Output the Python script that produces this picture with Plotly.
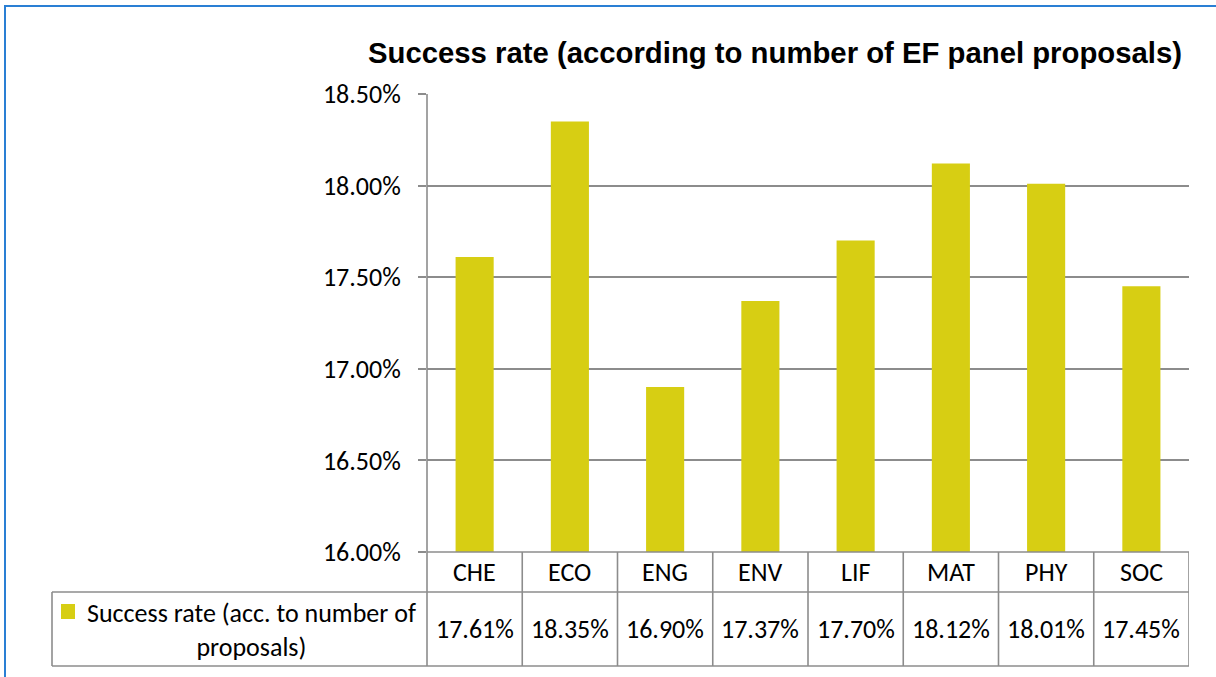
import plotly.graph_objects as go

categories = ["CHE", "ECO", "ENG", "ENV", "LIF", "MAT", "PHY", "SOC"]
success_rate = [0.1761, 0.1835, 0.1690, 0.1737, 0.1770, 0.1812, 0.1801, 0.1745]
value_labels = ["17.61%", "18.35%", "16.90%", "17.37%", "17.70%", "18.12%", "18.01%", "17.45%"]
series_name = "Success rate (acc. to number of<br>proposals)"
title_text = "Success rate (according to number of EF panel proposals)"
y_tick_vals = [0.160, 0.165, 0.170, 0.175, 0.180, 0.185]

BAR = "#D7CE13"
GRID = "#8c8c8c"
FONT = "Carlito, Lato, sans-serif"

W, H = 1216, 677
L, R, T, B = 427, 1189, 94, 552
pw, ph = R - L, B - T


def px(x):
    return (x - L) / pw


def py(y):
    return (B - y) / ph


fig = go.Figure()
fig.add_trace(go.Bar(x=categories, y=success_rate, marker=dict(color=BAR, line=dict(width=0)),
                     width=0.4, name=series_name.replace("<br>", " "), showlegend=False,
                     hoverinfo="skip"))

shapes = []
# blue outer frame
shapes.append(dict(type="rect", xref="paper", yref="paper", x0=px(5), x1=px(1240), y0=py(700), y1=py(6),
                   line=dict(color="#2a7fd4", width=2), layer="below"))
lw = 1.6
# y axis line extended through table
shapes.append(dict(type="line", xref="paper", yref="paper", x0=0, x1=0, y0=py(666), y1=1,
                   line=dict(color=GRID, width=lw)))
# horizontal table lines
shapes.append(dict(type="line", xref="paper", yref="paper", x0=0, x1=1, y0=0, y1=0,
                   line=dict(color=GRID, width=lw)))
for yy in (592, 666):
    shapes.append(dict(type="line", xref="paper", yref="paper", x0=px(52), x1=1, y0=py(yy), y1=py(yy),
                       line=dict(color=GRID, width=lw)))
# legend cell left border
shapes.append(dict(type="line", xref="paper", yref="paper", x0=px(52), x1=px(52), y0=py(666), y1=py(592),
                   line=dict(color=GRID, width=lw)))
# vertical column lines
for i in range(len(categories)):
    shapes.append(dict(type="line", xref="x", yref="paper", x0=i + 0.5, x1=i + 0.5, y0=py(666), y1=0,
                       line=dict(color=GRID, width=lw)))
# legend key square
shapes.append(dict(type="rect", xref="paper", yref="paper", x0=px(61), x1=px(75), y0=py(619), y1=py(604),
                   line=dict(width=0), fillcolor=BAR))

annotations = []
for c, v in zip(categories, value_labels):
    annotations.append(dict(x=c, xref="x", y=py(572), yref="paper", text=c, showarrow=False,
                            xanchor="center", yanchor="middle", font=dict(family=FONT, size=26, color="#000")))
    annotations.append(dict(x=c, xref="x", y=py(629), yref="paper", text=v, showarrow=False,
                            xanchor="center", yanchor="middle", font=dict(family=FONT, size=26, color="#000")))
annotations.append(dict(x=px(251), xref="paper", y=py(630), yref="paper", text=series_name, showarrow=False,
                        xanchor="center", yanchor="middle", align="center",
                        font=dict(family=FONT, size=26, color="#000")))

fig.update_layout(
    width=W, height=H,
    margin=dict(l=L, r=W - R, t=T, b=H - B, pad=0),
    paper_bgcolor="white", plot_bgcolor="white",
    title=dict(text="<b>" + title_text + "</b>", x=775 / W, xanchor="center",
               y=1 - 53 / H, yanchor="middle",
               font=dict(family="Liberation Sans, Arial, sans-serif", size=29.3, color="#000")),
    xaxis=dict(type="category", range=[-0.5, 7.5], showticklabels=False, showgrid=False, zeroline=False,
               showline=False, ticks=""),
    yaxis=dict(range=[0.16, 0.185], tickvals=y_tick_vals, tickformat=".2%", showgrid=True, gridcolor=GRID,
               gridwidth=lw, zeroline=False, showline=False, ticks="outside", ticklen=8, tickcolor=GRID,
               tickwidth=lw, tickfont=dict(family=FONT, size=26, color="#000"), ticklabelstandoff=12),
    shapes=shapes, annotations=annotations, showlegend=False, bargap=0.6,
)

fig.write_html("out.html", config={"displayModeBar": False},
               post_script="document.body.style.margin='0';document.body.style.overflow='hidden';")
